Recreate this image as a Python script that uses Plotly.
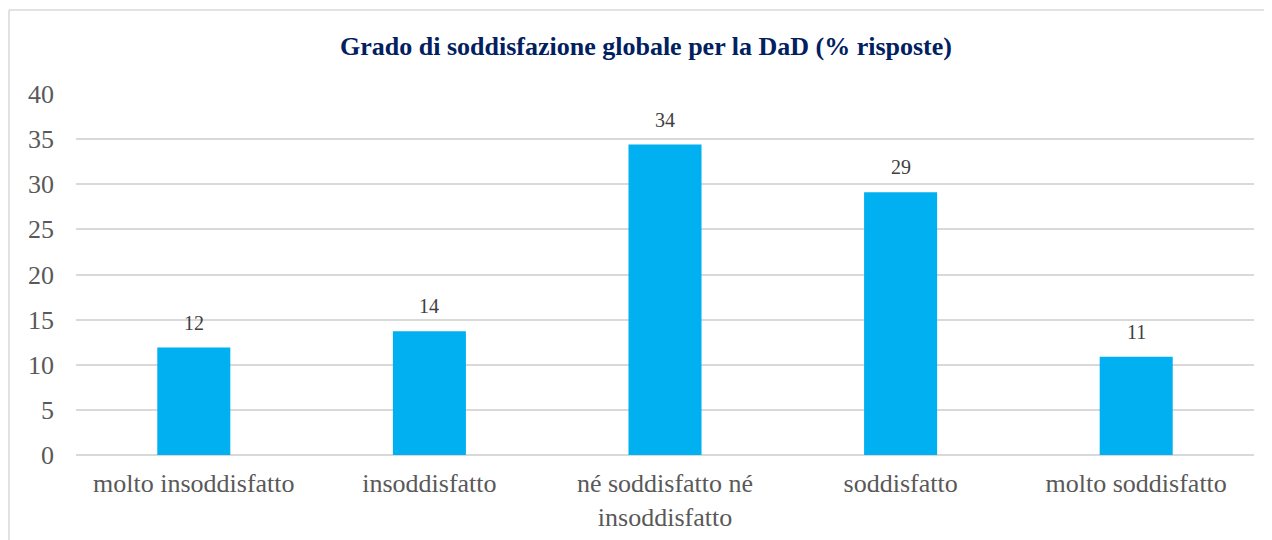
import plotly.graph_objects as go

categories = ["molto insoddisfatto", "insoddisfatto", "né soddisfatto né<br>insoddisfatto",
              "soddisfatto", "molto soddisfatto"]
values = [11.9, 13.7, 34.4, 29.1, 10.9]
title_text = "Grado di soddisfazione globale per la DaD (% risposte)"
y_ticks = [0, 5, 10, 15, 20, 25, 30, 35, 40]

SERIF = "Liberation Serif, Times New Roman, serif"
OFF = 8  # page body margin
W, H = 1264, 532
ml, mt = 76 - OFF, 94 - OFF
mr = W - (1254 - OFF)
mb = H - (455 - OFF)
pw = W - ml - mr
ph = H - mt - mb

fig = go.Figure()
fig.add_trace(go.Bar(
    x=categories, y=values,
    marker=dict(color="#00B0F0", line=dict(width=0)),
    hoverinfo="x+y",
))

for c, v in zip(categories, values):
    fig.add_annotation(x=c, y=v, text=f"{v:.0f}", showarrow=False, yanchor="middle",
                       yshift=25, font=dict(family=SERIF, size=20, color="#404040"))

bx = (9 - OFF - ml) / pw
by = (H - mb - (10 - OFF)) / ph
fig.update_layout(
    width=W, height=H,
    margin=dict(l=ml, r=mr, t=mt, b=mb, autoexpand=False),
    paper_bgcolor="white", plot_bgcolor="white",
    bargap=0.69,
    showlegend=False,
    title=dict(text="<b>" + title_text + "</b>", x=(646 - OFF - ml) / pw, xref="paper",
               xanchor="center", y=1 - (46 - OFF) / H, yanchor="middle",
               font=dict(family=SERIF, size=26, color="#002060")),
    font=dict(family=SERIF, color="#595959"),
    xaxis=dict(showgrid=False, showline=False, ticks="", tickfont=dict(size=26, color="#595959"),
               ticklabelstandoff=10, automargin=False),
    yaxis=dict(range=[0, 40], tickvals=y_ticks, showgrid=True, gridcolor="#D9D9D9", gridwidth=1.5,
               zeroline=True, zerolinecolor="#D9D9D9", zerolinewidth=2, showline=False, ticks="",
               tickfont=dict(size=26, color="#595959"), ticklabelstandoff=21, automargin=False),
    shapes=[
        dict(type="line", xref="paper", yref="paper",
             x0=bx, x1=bx, y0=by, y1=-(mb + 20) / ph,
             line=dict(color="#D9D9D9", width=1.5)),
        dict(type="line", xref="paper", yref="paper",
             x0=bx, x1=(W + 20 - ml) / pw, y0=by, y1=by,
             line=dict(color="#D9D9D9", width=1.5)),
    ],
)

fig.write_html("out.html")
